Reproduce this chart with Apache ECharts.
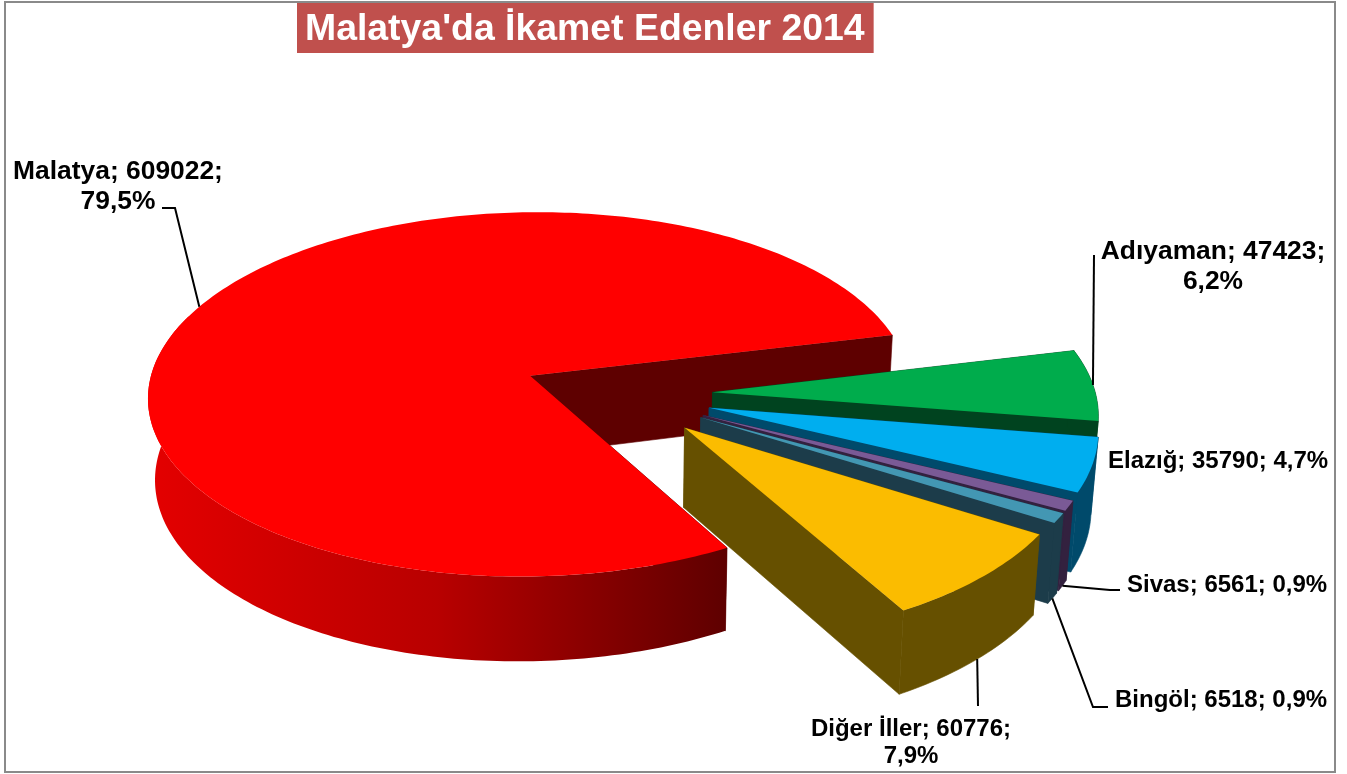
<!DOCTYPE html>
<html>
<head>
<meta charset="utf-8">
<title>Malatya'da İkamet Edenler 2014</title>
<script src="https://cdn.jsdelivr.net/npm/echarts@6/dist/echarts.min.js"></script>
<style>
  html, body { margin: 0; padding: 0; background: #fff; }
  #chart { width: 1347px; height: 774px; }
</style>
</head>
<body>
<div id="chart"></div>
<script>
const categories = ['Malatya', 'Adıyaman', 'Elazığ', 'Sivas', 'Bingöl', 'Diğer İller'];
const values = [609022, 47423, 35790, 6561, 6518, 60776];
const percents = ['79,5%', '6,2%', '4,7%', '0,9%', '0,9%', '7,9%'];

const topColors = ['#ff0000', '#00ac4c', '#00aeef', '#7a5a96', '#4397b3', '#fbbc00'];
const wallColors = ['#5e0000', '#00431f', '#004a6b', '#33213f', '#1c3c4a', '#665000'];

// pie geometry: tilted disc, every slice pushed away from the middle
const cx = 617, cy = 394;
const rx = 383, ry = 184;
const tilt = 0.1027;
const explode = 0.25;
const depth = 79;
const depthLean = 2; // wall gets a bit taller towards the left
const bottomScale = 0.985;
const firstAngle = 60.4;
const total = values.reduce(function (a, b) { return a + b; }, 0);

const rad = function (d) { return d * Math.PI / 180; };

function project(u, v, bottom) {
  const w = 1 - tilt * v;
  const s = bottom ? bottomScale : 1;
  return [cx + rx * u * s / w, cy + (ry * v * s + (bottom ? depth - depthLean * u : 0)) / w];
}

function sliceAngles(index) {
  let start = firstAngle;
  for (let i = 0; i < index; i++) start += values[i] / total * 360;
  return [start, start + values[index] / total * 360];
}

function rimPoint(angle, offsetAngle, bottom) {
  const ox = explode * Math.cos(rad(offsetAngle));
  const oy = explode * Math.sin(rad(offsetAngle));
  return project(ox + Math.cos(rad(angle)), oy + Math.sin(rad(angle)), bottom);
}

function apexPoint(offsetAngle, bottom) {
  return project(explode * Math.cos(rad(offsetAngle)), explode * Math.sin(rad(offsetAngle)), bottom);
}

function arcPoints(from, to, mid, bottom) {
  const pts = [];
  for (let a = from; a < to; a += 1) pts.push(rimPoint(a, mid, bottom));
  pts.push(rimPoint(to, mid, bottom));
  return pts;
}

function renderSlice(params, api) {
  const i = params.dataIndex;
  const angles = sliceAngles(i);
  const start = angles[0], end = angles[1];
  const mid = (start + end) / 2;
  const children = [];
  const radialWall = function (a) {
    return {
      type: 'polygon',
      shape: { points: [apexPoint(mid, false), rimPoint(a, mid, false), rimPoint(a, mid, true), apexPoint(mid, true)] },
      style: { fill: wallColors[i], stroke: wallColors[i], lineWidth: 0.6 }
    };
  };
  children.push(radialWall(start), radialWall(end));

  // only the part facing us is needed for the outer wall
  const rimEnd = start < 200 ? Math.min(end, 200) : end;
  const rimFill = i === 0
    ? { type: 'linear', x: 0, y: 0, x2: 1, y2: 0, colorStops: [
        { offset: 0, color: '#e40000' },
        { offset: 0.5, color: '#b80000' },
        { offset: 1, color: '#5e0000' }
      ] }
    : wallColors[i];
  children.push({
    type: 'polygon',
    shape: { points: arcPoints(start, rimEnd, mid, false).concat(arcPoints(start, rimEnd, mid, true).reverse()) },
    style: i === 0 ? { fill: rimFill } : { fill: rimFill, stroke: rimFill, lineWidth: 0.6 }
  });

  children.push({
    type: 'polygon',
    shape: { points: [apexPoint(mid, false)].concat(arcPoints(start, end, mid, false)) },
    style: { fill: topColors[i] }
  });
  return { type: 'group', children: children };
}

// where each label sits and how its leader line bends
const labelLayout = [
  { x: 118, y: 157, align: 'center', size: 26.4, lineHeight: 30, wrap: 2, elbow: [[162, 208], [175, 208]], anchorBottom: false },
  { x: 1213, y: 237, align: 'center', size: 26.4, lineHeight: 30, wrap: 2, elbow: [[1094, 255]], anchorBottom: false },
  { x: 1108, y: 448, align: 'left', size: 24, lineHeight: 27, wrap: 0, elbow: null },
  { x: 1127, y: 572, align: 'left', size: 24, lineHeight: 27, wrap: 0, elbow: [[1120, 590], [1110, 590]], anchorBottom: true },
  { x: 1115, y: 687, align: 'left', size: 24, lineHeight: 27, wrap: 0, elbow: [[1108, 707], [1093, 707]], anchorBottom: true },
  { x: 911, y: 716, align: 'center', size: 24, lineHeight: 27, wrap: 2, elbow: [[978, 706]], anchorBottom: true }
];

function renderLabel(params, api) {
  const i = params.dataIndex;
  const layout = labelLayout[i];
  const angles = sliceAngles(i);
  const mid = (angles[0] + angles[1]) / 2;
  const sep = layout.wrap ? ';\n' : '; ';
  const children = [{
    type: 'text',
    style: {
      x: layout.x,
      y: layout.y,
      text: categories[i] + '; ' + api.value(0) + sep + percents[i],
      fill: '#000',
      font: 'bold ' + layout.size + 'px "Liberation Sans", Arial, sans-serif',
      lineHeight: layout.lineHeight,
      align: layout.align,
      verticalAlign: 'top'
    }
  }];
  if (layout.elbow) {
    children.push({
      type: 'polyline',
      shape: { points: layout.elbow.concat([rimPoint(mid, mid, layout.anchorBottom)]) },
      style: { fill: null, stroke: '#000', lineWidth: 2 }
    });
  }
  return { type: 'group', children: children };
}

const chart = echarts.init(document.getElementById('chart'));
chart.setOption({
  animation: false,
  backgroundColor: '#fff',
  title: {
    text: "Malatya'da İkamet Edenler 2014",
    left: 297,
    top: 3,
    padding: [8, 9, 4, 8],
    backgroundColor: '#c0504d',
    textStyle: {
      color: '#fff',
      fontSize: 37.4,
      fontWeight: 'bold',
      lineHeight: 38,
      fontFamily: '"Liberation Sans", Arial, sans-serif'
    }
  },
  graphic: [{
    type: 'rect',
    silent: true,
    shape: { x: 5, y: 2, width: 1330, height: 770 },
    style: { fill: null, stroke: '#8a8a8a', lineWidth: 2 }
  }],
  series: [
    {
      type: 'custom',
      coordinateSystem: 'none',
      renderItem: renderSlice,
      data: values.map(function (v, i) { return { name: categories[i], value: [v] }; }),
      z: 2
    },
    {
      type: 'custom',
      coordinateSystem: 'none',
      renderItem: renderLabel,
      data: values.map(function (v, i) { return { name: categories[i], value: [v] }; }),
      z: 3
    }
  ]
});
window.addEventListener('resize', function () {
  chart.resize();
});
</script>
</body>
</html>
